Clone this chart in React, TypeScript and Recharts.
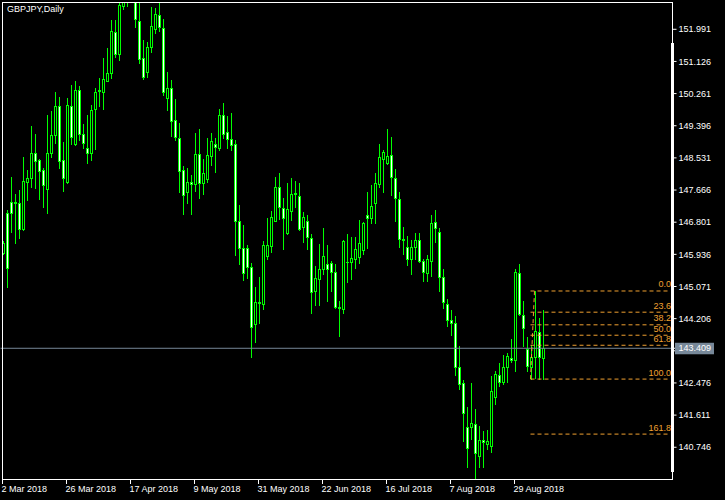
import React from 'react';
import { ComposedChart, Bar, XAxis, YAxis, ReferenceLine } from 'recharts';

// ---- Data (GBPJPY daily) ----
const opens = [
  145.98, 147.04, 147.34, 147.34, 147.31, 146.61, 147.87, 147.98, 148.65, 148.47,
  148.21, 147.70, 148.67, 149.15, 149.93, 148.48, 147.87, 149.93, 148.90, 150.36,
  149.17, 148.79, 148.67, 149.84, 150.32, 150.31, 150.61, 150.81, 151.91, 151.32,
  152.63, 153.30, 153.55, 153.10, 152.22, 151.21, 150.85, 151.51, 152.01, 152.37,
  152.02, 150.15, 150.40, 149.55, 149.06, 148.21, 147.62, 147.87, 147.82, 148.64,
  147.85, 147.96, 148.59, 148.91, 148.81, 149.69, 149.22, 149.03, 148.90, 146.82,
  146.12, 146.10, 145.59, 144.05, 144.65, 144.59, 145.90, 146.17, 146.84, 147.74,
  147.17, 146.50, 147.11, 147.55, 147.51, 146.68, 146.84, 146.37, 144.96, 145.27,
  145.53, 145.68, 145.70, 145.45, 144.53, 144.47, 145.74, 145.72, 145.80, 145.86,
  146.05, 147.00, 146.91, 147.31, 147.82, 148.49, 148.40, 148.61, 147.98, 147.42,
  146.34, 146.13, 145.81, 146.13, 146.32, 145.76, 145.43, 145.77, 146.80, 146.53,
  145.32, 144.60, 144.17, 144.08, 142.91, 142.47, 141.30, 141.28, 141.36, 140.52,
  140.94, 140.83, 140.79, 142.11, 142.69, 142.51, 142.90, 143.16, 143.09, 145.43,
  144.30, 143.39, 142.90, 143.17, 143.86, 143.14,
];
const highs = [
  146.30, 147.13, 148.03, 147.56, 147.67, 148.56, 148.21, 149.39, 149.17, 148.50,
  148.25, 149.69, 149.79, 150.30, 150.17, 148.97, 150.13, 150.49, 150.60, 150.47,
  149.44, 149.69, 149.95, 150.41, 150.67, 151.21, 151.48, 152.24, 152.24, 152.75,
  153.40, 153.85, 153.80, 153.35, 152.80, 151.70, 151.65, 152.58, 152.56, 152.74,
  152.27, 150.84, 150.63, 150.12, 149.46, 148.30, 148.26, 148.07, 149.19, 149.31,
  148.50, 149.07, 149.20, 149.07, 149.85, 150.01, 149.66, 149.73, 149.01, 147.26,
  146.73, 146.19, 145.70, 145.05, 145.32, 146.30, 146.92, 147.10, 148.01, 148.12,
  147.46, 147.85, 147.99, 147.91, 147.85, 147.07, 146.99, 146.48, 145.62, 146.22,
  146.65, 146.19, 145.76, 145.68, 144.68, 146.32, 146.48, 146.39, 146.39, 146.86,
  146.80, 147.61, 147.80, 148.12, 148.91, 148.73, 149.31, 149.10, 148.23, 147.61,
  146.68, 146.43, 146.32, 146.50, 146.50, 145.80, 145.92, 147.00, 147.13, 146.64,
  145.54, 144.74, 144.44, 144.28, 143.47, 142.56, 141.82, 142.47, 141.78, 141.32,
  141.17, 141.21, 142.66, 142.80, 143.02, 143.23, 143.27, 143.66, 145.54, 145.68,
  144.68, 143.71, 143.50, 144.95, 144.22, 144.44,
];
const lows = [
  145.94, 145.07, 146.55, 146.23, 146.37, 146.60, 147.40, 147.76, 147.73, 147.43,
  147.22, 147.04, 148.56, 148.94, 148.25, 147.65, 147.86, 148.91, 148.89, 149.01,
  148.81, 148.39, 148.48, 148.78, 149.93, 149.85, 150.60, 150.67, 151.25, 151.17,
  152.55, 152.62, 152.80, 152.04, 151.08, 150.65, 150.72, 151.39, 151.90, 151.95,
  150.21, 149.82, 149.12, 149.00, 147.60, 147.02, 147.33, 147.02, 147.65, 147.46,
  147.56, 147.87, 148.34, 148.16, 148.74, 149.06, 148.81, 148.74, 145.92, 145.68,
  145.25, 145.29, 143.18, 143.59, 144.10, 144.47, 145.81, 146.01, 146.82, 146.89,
  146.08, 146.49, 146.86, 147.20, 146.59, 146.28, 146.08, 144.37, 144.57, 144.57,
  145.41, 144.69, 144.96, 144.50, 143.75, 144.35, 145.18, 145.27, 145.56, 145.71,
  145.94, 146.10, 146.79, 146.79, 147.76, 147.62, 148.37, 147.53, 146.84, 146.14,
  145.95, 145.65, 145.41, 145.81, 145.72, 145.22, 145.22, 145.34, 146.28, 144.96,
  144.48, 144.02, 143.77, 142.69, 142.31, 140.92, 140.22, 140.97, 139.87, 140.21,
  140.21, 140.69, 140.63, 141.91, 142.40, 142.45, 142.51, 143.05, 142.81, 144.30,
  143.47, 142.81, 142.58, 142.62, 142.59, 142.58,
];
const closes = [
  146.25, 145.56, 147.04, 147.31, 146.61, 147.91, 147.98, 148.65, 148.46, 148.19,
  147.79, 148.67, 149.15, 149.93, 148.46, 147.98, 149.95, 149.08, 150.36, 149.17,
  148.94, 148.67, 149.82, 150.30, 150.36, 150.65, 150.82, 151.95, 151.33, 152.64,
  153.30, 153.55, 153.10, 152.26, 151.18, 150.72, 151.52, 152.08, 152.40, 152.04,
  150.30, 150.40, 149.53, 149.08, 148.19, 147.53, 147.87, 147.82, 148.64, 147.85,
  148.12, 148.61, 148.99, 148.83, 149.69, 149.17, 149.03, 148.88, 146.84, 146.12,
  145.43, 145.59, 143.99, 144.65, 144.63, 146.19, 146.19, 146.95, 147.74, 147.22,
  146.91, 147.15, 147.55, 147.58, 146.62, 146.93, 146.39, 144.93, 145.29, 145.53,
  145.89, 145.53, 145.45, 144.53, 144.48, 146.30, 145.72, 145.83, 146.07, 146.25,
  146.77, 146.91, 147.25, 147.85, 148.55, 148.68, 148.58, 148.01, 147.44, 146.34,
  146.31, 145.81, 146.13, 146.32, 145.76, 145.47, 145.80, 146.77, 146.64, 145.32,
  144.66, 144.17, 144.10, 142.91, 142.44, 141.66, 140.72, 141.39, 140.58, 140.94,
  140.88, 140.91, 142.26, 142.72, 142.49, 142.90, 143.20, 143.09, 145.45, 144.32,
  143.95, 142.94, 143.18, 143.88, 143.17, 143.41,
];
const futureSlots = 32;

const dateLabels = ['2 Mar 2018', '26 Mar 2018', '17 Apr 2018', '9 May 2018', '31 May 2018', '22 Jun 2018', '16 Jul 2018', '7 Aug 2018', '29 Aug 2018'];
const dateLabelIdx = [0, 16, 32, 48, 64, 80, 96, 112, 128];

const priceTicks = [151.991, 151.126, 150.261, 149.396, 148.531, 147.666, 146.801, 145.936, 145.071, 144.206, 143.341, 142.476, 141.611, 140.746];
const bidPrice = 143.409;
const priceDomain = [139.865, 152.725];

const fibNames = ['0.0', '23.6', '38.2', '50.0', '61.8', '100.0', '161.8'];
const fibLevels = [144.95, 144.38, 144.04, 143.76, 143.49, 142.58, 141.10];
const fibLowIdx = 132;
const fibHighIdx = 133;
const fibLow = 142.58;
const fibHigh = 144.95;

// ---- Styles ----
const LIME = '#00FF00';
const FIB = '#F0A030';
const BIDC = '#778899';
const FONT = '"Liberation Sans", Arial, sans-serif';

const rows = Array.from({ length: opens.length + futureSlots }, (_, i) =>
  i < opens.length
    ? { i, o: opens[i], h: highs[i], l: lows[i], c: closes[i], range: [lows[i], highs[i]] }
    : { i, range: null }
);

const Candle = (props: any) => {
  const { x, y, width, height, payload } = props;
  if (!payload || payload.o == null || x == null || y == null) return null;
  const cx = Math.floor(x + width / 2) + 0.5;
  const top = Math.min(y, y + height);
  const bot = Math.max(y, y + height);
  const span = payload.h - payload.l || 1;
  const py = (v: number) => top + ((payload.h - v) / span) * (bot - top);
  const bull = payload.c >= payload.o;
  const bt = Math.round(py(Math.max(payload.o, payload.c))) + 0.5;
  const bb = Math.round(py(Math.min(payload.o, payload.c))) + 0.5;
  return (
    <g>
      <line x1={cx} x2={cx} y1={Math.round(top)} y2={Math.round(bot) + 1} stroke={LIME} strokeWidth={1} />
      {bb - bt < 1 ? (
        <line x1={cx - 1.5} x2={cx + 1.5} y1={bt} y2={bt} stroke={LIME} strokeWidth={1} />
      ) : (
        <rect x={cx - 1} y={bt} width={2} height={bb - bt} fill={bull ? '#000000' : '#FFFFFF'} stroke={LIME} strokeWidth={1} />
      )}
    </g>
  );
};

const DateTick = (props: any) => {
  const { x, y, payload } = props;
  const k = dateLabelIdx.indexOf(Number(payload.value));
  const cx = Math.floor(x) + 0.5;
  return (
    <g>
      <line x1={cx} x2={cx} y1={y - 1} y2={y + 4} stroke="#FFFFFF" strokeWidth={1} />
      <text x={cx - 1} y={y + 12} textAnchor="start" fill="#FFFFFF" fontSize={9} fontFamily={FONT}>
        {k >= 0 ? dateLabels[k] : ''}
      </text>
    </g>
  );
};

const PriceTick = (props: any) => {
  const { x, y, payload } = props;
  const v = Number(payload.value);
  if (v === bidPrice) {
    return (
      <g>
        <rect x={x - 3.5} y={y - 5.5} width={39} height={11.5} fill={BIDC} />
        <text x={x} y={y + 3.2} textAnchor="start" fill="#FFFFFF" fontSize={9} fontFamily={FONT}>
          {v.toFixed(3)}
        </text>
      </g>
    );
  }
  return (
    <text x={x} y={y + 3.2} textAnchor="start" fill="#FFFFFF" fontSize={9} fontFamily={FONT}>
      {v.toFixed(3)}
    </text>
  );
};

const fibLabel = (name: string) => (props: any) => {
  const vb = props.viewBox || {};
  const xe = (vb.x || 0) + (vb.width || 0);
  return (
    <text x={xe + 0.5} y={(vb.y || 0) - 3.5} textAnchor="end" fill={FIB} fontSize={9} fontFamily={FONT}>
      {name}
    </text>
  );
};

export default function App() {
  return (
    <div style={{ position: 'fixed', left: 0, top: 0, width: 725, height: 500, background: '#000000', overflow: 'hidden' }}>
      <ComposedChart
        width={725}
        height={500}
        data={rows}
        margin={{ top: 2, right: 0, bottom: 0, left: 0.5 }}
        style={{ background: '#000000' }}
      >
        <XAxis
          dataKey="i"
          type="category"
          ticks={dateLabelIdx}
          interval={0}
          tick={<DateTick />}
          tickLine={false}
          axisLine={false}
          tickSize={0}
          tickMargin={0}
          height={20}
        />
        <YAxis
          orientation="right"
          type="number"
          domain={priceDomain}
          allowDataOverflow
          ticks={[...priceTicks, bidPrice]}
          interval={0}
          tick={<PriceTick />}
          tickLine={{ stroke: '#FFFFFF' }}
          tickSize={4}
          tickMargin={2}
          axisLine={false}
          width={52.5}
        />
        <ReferenceLine y={bidPrice} stroke={BIDC} strokeWidth={1} />
        <Bar dataKey="range" barSize={3} shape={<Candle />} isAnimationActive={false} />
        {fibLevels.map((lv, k) => (
          <ReferenceLine
            key={fibNames[k]}
            segment={[{ x: fibLowIdx, y: lv }, { x: rows.length - 1, y: lv }]}
            stroke={FIB}
            strokeWidth={1}
            strokeDasharray="4 3"
            label={fibLabel(fibNames[k])}
          />
        ))}
        <ReferenceLine
          segment={[{ x: fibLowIdx, y: fibLow }, { x: fibHighIdx, y: fibHigh }]}
          stroke={FIB}
          strokeWidth={1}
          strokeDasharray="4 3"
        />
      </ComposedChart>
      <div
        style={{
          position: 'absolute', left: 2, top: 2, width: 671, height: 478,
          boxSizing: 'border-box', border: '1px solid #FFFFFF', pointerEvents: 'none',
        }}
      />
      <div style={{ position: 'absolute', left: 671, top: 43, width: 3, height: 429, background: '#FFFFFF' }} />
      <div
        style={{
          position: 'absolute', left: 7, top: 5, fontSize: 9, lineHeight: '9px',
          fontFamily: FONT, color: '#FFFFFF', whiteSpace: 'nowrap',
        }}
      >
        GBPJPY,Daily
      </div>
    </div>
  );
}
